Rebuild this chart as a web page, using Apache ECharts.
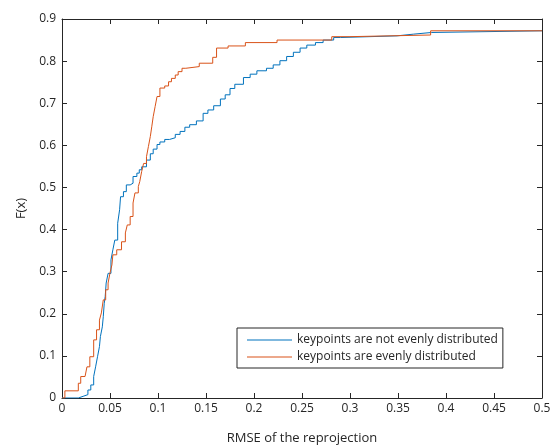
<!DOCTYPE html>
<html>
<head>
<meta charset="utf-8">
<script src="https://cdn.jsdelivr.net/npm/echarts@6/dist/echarts.min.js"></script>
<style>
html,body{margin:0;padding:0;background:#fff;}
#chart{width:559px;height:446px;}
</style>
</head>
<body>
<div id="chart"></div>
<script>
// Empirical CDF step points (x where the step occurs, new F(x) level)
const notEvenX = [0, 0.017, 0.022, 0.027, 0.030, 0.033, 0.035, 0.037, 0.039, 0.040, 0.042, 0.043, 0.044, 0.045, 0.046, 0.048, 0.051, 0.053, 0.055, 0.058, 0.060, 0.061, 0.064, 0.067, 0.071, 0.074, 0.078, 0.0805, 0.083, 0.088, 0.092, 0.095, 0.099, 0.102, 0.107, 0.112, 0.118, 0.123, 0.128, 0.133, 0.140, 0.147, 0.152, 0.158, 0.165, 0.170, 0.175, 0.180, 0.189, 0.196, 0.203, 0.213, 0.220, 0.227, 0.234, 0.241, 0.248, 0.255, 0.264, 0.272, 0.283, 0.290, 0.349, 0.366, 0.385, 0.5];
const notEvenY = [0, 0.004, 0.008, 0.019, 0.031, 0.051, 0.074, 0.098, 0.122, 0.146, 0.169, 0.193, 0.225, 0.241, 0.273, 0.296, 0.328, 0.352, 0.375, 0.415, 0.447, 0.478, 0.490, 0.506, 0.510, 0.526, 0.534, 0.542, 0.549, 0.565, 0.580, 0.591, 0.602, 0.608, 0.614, 0.618, 0.626, 0.633, 0.643, 0.649, 0.658, 0.676, 0.684, 0.694, 0.710, 0.720, 0.735, 0.745, 0.761, 0.769, 0.777, 0.783, 0.791, 0.801, 0.811, 0.821, 0.831, 0.838, 0.844, 0.850, 0.856, 0.860, 0.864, 0.868, 0.872, 0.872];

const evenX = [0, 0.003, 0.017, 0.0195, 0.024, 0.026, 0.029, 0.033, 0.036, 0.039, 0.041, 0.043, 0.0455, 0.048, 0.050, 0.052, 0.053, 0.057, 0.062, 0.066, 0.068, 0.071, 0.074, 0.076, 0.0795, 0.081, 0.083, 0.085, 0.088, 0.090, 0.092, 0.0935, 0.095, 0.097, 0.099, 0.102, 0.107, 0.111, 0.114, 0.118, 0.121, 0.125, 0.129, 0.143, 0.157, 0.161, 0.173, 0.191, 0.224, 0.281, 0.299, 0.384, 0.5];
const evenY = [0, 0.017, 0.035, 0.051, 0.055, 0.074, 0.098, 0.138, 0.162, 0.185, 0.202, 0.233, 0.257, 0.273, 0.297, 0.316, 0.340, 0.352, 0.371, 0.392, 0.411, 0.431, 0.463, 0.487, 0.502, 0.514, 0.538, 0.557, 0.573, 0.597, 0.621, 0.644, 0.668, 0.692, 0.716, 0.736, 0.741, 0.751, 0.759, 0.767, 0.775, 0.783, 0.787, 0.795, 0.809, 0.831, 0.836, 0.844, 0.850, 0.858, 0.862, 0.872, 0.872];

const seriesNames = ['keypoints are not evenly distributed', 'keypoints are evenly distributed'];
const xTicks = [0, 0.05, 0.1, 0.15, 0.2, 0.25, 0.3, 0.35, 0.4, 0.45, 0.5];
const yTicks = [0, 0.1, 0.2, 0.3, 0.4, 0.5, 0.6, 0.7, 0.8, 0.9];
const xName = 'RMSE of the reprojection';
const yName = 'F(x)';

const zip = (xs, ys) => xs.map((x, i) => [x, ys[i]]);
const FONT = '"Open Sans", "Noto Sans", sans-serif';
const AX = '#262626';
const LINE_ICON = 'path://M0,0L45,0L45,1.2L0,1.2Z';

const chart = echarts.init(document.getElementById('chart'), null, {renderer: 'canvas'});
const baseAxis = {
  axisLine: {show: true, onZero: false, lineStyle: {color: AX, width: 1}},
  axisTick: {show: true, inside: true, length: 5, lineStyle: {color: AX, width: 1}},
  splitLine: {show: false}
};
chart.setOption({
  animation: false,
  backgroundColor: '#fff',
  grid: {left: 62, right: 17, top: 19, bottom: 48, containLabel: false, outerBoundsMode: 'none'},
  xAxis: [
    Object.assign({}, baseAxis, {
      type: 'value', min: 0, max: 0.5, interval: 0.05, position: 'bottom',
      name: xName, nameLocation: 'middle', nameGap: 34,
      nameTextStyle: {fontFamily: FONT, fontSize: 13, color: AX},
      axisLabel: {fontFamily: FONT, fontSize: 12, color: AX, margin: 5,
        formatter: v => { const t = xTicks.find(k => Math.abs(k - v) < 1e-9); return t === undefined ? '' : String(t); }}
    }),
    Object.assign({}, baseAxis, {
      type: 'value', min: 0, max: 0.5, interval: 0.05, position: 'top',
      axisLabel: {show: false}
    })
  ],
  yAxis: [
    Object.assign({}, baseAxis, {
      type: 'value', min: 0, max: 0.9, interval: 0.1, position: 'left',
      name: yName, nameLocation: 'middle', nameGap: 33, nameRotate: 90,
      nameTextStyle: {fontFamily: FONT, fontSize: 13, color: AX},
      axisLabel: {fontFamily: FONT, fontSize: 12, color: AX, margin: 6,
        formatter: v => { const t = yTicks.find(k => Math.abs(k - v) < 1e-9); return t === undefined ? '' : String(t); }}
    }),
    Object.assign({}, baseAxis, {
      type: 'value', min: 0, max: 0.9, interval: 0.1, position: 'right',
      axisLabel: {show: false}
    })
  ],
  legend: {
    orient: 'vertical',
    left: 237, top: 328,
    padding: [6, 5, 5, 10],
    itemWidth: 45, itemHeight: 14, itemGap: 5,
    backgroundColor: '#fff',
    borderColor: AX, borderWidth: 1,
    textStyle: {fontFamily: FONT, fontSize: 12, color: AX},
    data: seriesNames.map(n => ({name: n, icon: LINE_ICON}))
  },
  series: [
    {
      name: seriesNames[0], type: 'line', step: 'end', symbol: 'none',
      xAxisIndex: 0, yAxisIndex: 0,
      lineStyle: {color: '#0072BD', width: 1},
      itemStyle: {color: '#0072BD'},
      data: zip(notEvenX, notEvenY)
    },
    {
      name: seriesNames[1], type: 'line', step: 'end', symbol: 'none',
      xAxisIndex: 0, yAxisIndex: 0,
      lineStyle: {color: '#D95319', width: 1},
      itemStyle: {color: '#D95319'},
      data: zip(evenX, evenY)
    }
  ]
});
</script>
</body>
</html>
